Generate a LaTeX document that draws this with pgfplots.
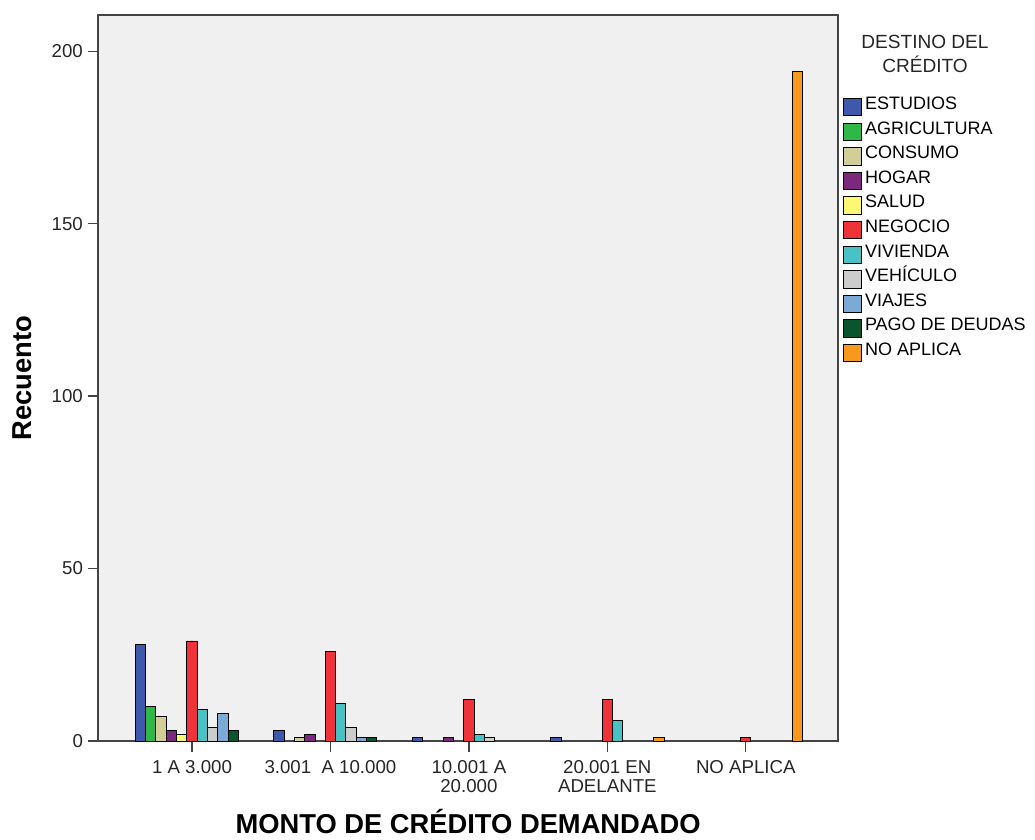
\documentclass[border=0pt]{standalone}
\usepackage{fontspec}
\setmainfont{Liberation Sans}
\usepackage{pgfplots}
\pgfplotsset{compat=1.18}
\definecolor{cEst}{HTML}{3E58AC}
\definecolor{cAgr}{HTML}{2EB848}
\definecolor{cCon}{HTML}{D3CE97}
\definecolor{cHog}{HTML}{7C287D}
\definecolor{cSal}{HTML}{FBF873}
\definecolor{cNeg}{HTML}{EF3338}
\definecolor{cViv}{HTML}{48C2C5}
\definecolor{cVeh}{HTML}{CCCCCC}
\definecolor{cVia}{HTML}{7AAAD5}
\definecolor{cPag}{HTML}{0A562C}
\definecolor{cNoA}{HTML}{F8981D}
\definecolor{bgc}{HTML}{F0F0F0}
\definecolor{frame}{HTML}{444444}
\begin{document}
\begin{tikzpicture}
\begin{axis}[
  scale only axis, width=554.8pt, height=544.5pt,
  xmin=-0.677, xmax=4.666, ymin=0, ymax=210.5,
  axis background/.style={fill=bgc},
  axis line style={draw=frame, line width=1.4pt},
  xtick={0,1,2,3,4},
  xticklabels={1 A 3.000, 3.001 \ A 10.000, {10.001 A\\20.000}, {20.001 EN\\ADELANTE}, NO APLICA},
  ytick={0,50,100,150,200},
  tick align=outside, xtick pos=left, ytick pos=left,
  major tick length=8pt,
  tick style={draw=frame, line width=1pt},
  ticklabel style={font=\fontsize{14}{14.5}\selectfont, text=black!85},
  xticklabel style={align=center, yshift=-3pt},
  /pgf/number format/assume math mode=true,
  clip=false,
  xlabel={MONTO DE CRÉDITO DEMANDADO},
  ylabel={Recuento},
  label style={font=\bfseries\fontsize{20.5}{24}\selectfont},
  xlabel style={at={(axis description cs:0.5,-0.1110)}, anchor=center},
  ylabel style={at={(axis description cs:-0.1031,0.5)}, anchor=center},
  every axis plot/.append style={ybar, bar width=0.0744, draw=black, line width=0.7pt},
  legend image code/.code={\draw[#1, draw=black, line width=0.7pt] (0pt,-6.5pt) rectangle (13pt,6.5pt);},
  legend cell align=left,
  legend style={at={(rel axis cs:1.0016,0.894)}, anchor=north west, draw=none, fill=none,
    font=\fontsize{13.5}{15}\selectfont, row sep=0pt, column sep=0pt,
    nodes={inner ysep=0pt, inner xsep=2.5pt, text height=11pt, text depth=7.45pt}},
]
\addplot[fill=cEst, bar shift=-0.372] coordinates {(0,28) (1,3) (2,1) (3,1)};
\addlegendentry{ESTUDIOS}
\addplot[fill=cAgr, bar shift=-0.2976] coordinates {(0,10)};
\addlegendentry{AGRICULTURA}
\addplot[fill=cCon, bar shift=-0.2232] coordinates {(0,7) (1,1)};
\addlegendentry{CONSUMO}
\addplot[fill=cHog, bar shift=-0.1488] coordinates {(0,3) (1,2) (2,1)};
\addlegendentry{HOGAR}
\addplot[fill=cSal, bar shift=-0.0744] coordinates {(0,2)};
\addlegendentry{SALUD}
\addplot[fill=cNeg, bar shift=0] coordinates {(0,29) (1,26) (2,12) (3,12) (4,1)};
\addlegendentry{NEGOCIO}
\addplot[fill=cViv, bar shift=0.0744] coordinates {(0,9) (1,11) (2,2) (3,6)};
\addlegendentry{VIVIENDA}
\addplot[fill=cVeh, bar shift=0.1488] coordinates {(0,4) (1,4) (2,1)};
\addlegendentry{VEHÍCULO}
\addplot[fill=cVia, bar shift=0.2232] coordinates {(0,8) (1,1)};
\addlegendentry{VIAJES}
\addplot[fill=cPag, bar shift=0.2976] coordinates {(0,3) (1,1)};
\addlegendentry{PAGO DE DEUDAS}
\addplot[fill=cNoA, bar shift=0.372] coordinates {(3,1) (4,194)};
\addlegendentry{NO APLICA}
\node[align=center, font=\fontsize{14.3}{18}\selectfont, text=black!85] at (rel axis cs:1.1176,0.946) {DESTINO DEL\\CRÉDITO};
\end{axis}
\pgfresetboundingbox
\path[use as bounding box] ([shift={(-73.7pt,-73.5pt)}]current axis.south west) rectangle ([shift={(147.75pt,11.25pt)}]current axis.north east);
\end{tikzpicture}
\end{document}
